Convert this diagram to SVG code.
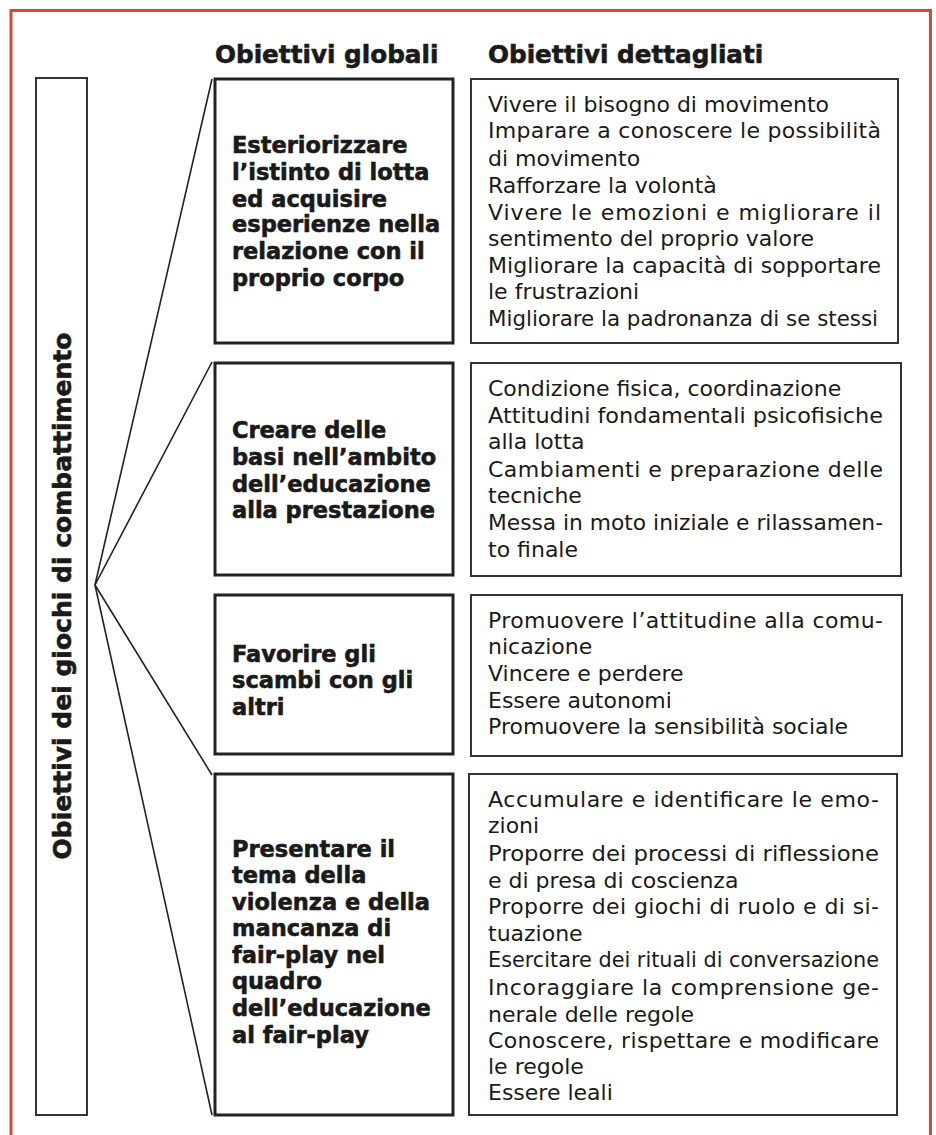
<svg xmlns="http://www.w3.org/2000/svg" width="936" height="1135" viewBox="0 0 936 1135">
<style>
.frame{fill:none;stroke:#cf4a3a;stroke-width:3}
.side{fill:#fff;stroke:#333;stroke-width:2}
.g{fill:#fff;stroke:#222;stroke-width:3}
.d{fill:#fff;stroke:#333;stroke-width:2}
.conn{fill:none;stroke:#222;stroke-width:1.6}
.h{font-family:"DejaVu Sans",sans-serif;font-weight:bold;font-size:24.7px;fill:#1a1a1a;stroke:#1a1a1a;stroke-width:0.6}
.b{font-family:"DejaVu Sans",sans-serif;font-weight:bold;font-size:22.5px;fill:#1a1a1a;stroke:#1a1a1a;stroke-width:0.6}
.t{font-family:"DejaVu Sans",sans-serif;font-size:22px;fill:#1a1a1a}
</style>
<rect width="936" height="1135" fill="#fff"/>
<path class="frame" d="M11,1140 V10.5 H930.5 V1140"/>
<g id="headers">
<text class="h" x="215" y="63">Obiettivi globali</text>
<text class="h" x="488" y="63">Obiettivi dettagliati</text>
</g>
<g id="root">
<rect class="side" x="36" y="78" width="51" height="1037"/>
<text class="h" transform="translate(71,596) rotate(-90)" text-anchor="middle" textLength="527" lengthAdjust="spacingAndGlyphs" font-size="26">Obiettivi dei giochi di combattimento</text>
</g>
<g id="connectors">
<line class="conn" x1="95" y1="585" x2="212" y2="79"/>
<line class="conn" x1="95" y1="585" x2="212" y2="362"/>
<line class="conn" x1="95" y1="585" x2="212" y2="775"/>
<line class="conn" x1="95" y1="585" x2="212" y2="1115"/>
</g>
<g id="global1">
<rect class="g" x="215" y="79" width="238" height="264"/>
<text class="b" x="232" y="153.3">Esteriorizzare</text>
<text class="b" x="232" y="180">l’istinto di lotta</text>
<text class="b" x="232" y="206.7">ed acquisire</text>
<text class="b" x="232" y="232.3">esperienze nella</text>
<text class="b" x="232" y="259">relazione con il</text>
<text class="b" x="232" y="285.7">proprio corpo</text>
</g>
<g id="global2">
<rect class="g" x="215" y="363" width="238" height="212"/>
<text class="b" x="232" y="438.3">Creare delle</text>
<text class="b" x="232" y="465">basi nell’ambito</text>
<text class="b" x="232" y="491.7">dell’educazione</text>
<text class="b" x="232" y="518.3">alla prestazione</text>
</g>
<g id="global3">
<rect class="g" x="215" y="595" width="238" height="159"/>
<text class="b" x="232" y="661.7">Favorire gli</text>
<text class="b" x="232" y="688.3">scambi con gli</text>
<text class="b" x="232" y="715">altri</text>
</g>
<g id="global4">
<rect class="g" x="215" y="774" width="238" height="341"/>
<text class="b" x="232" y="856.7">Presentare il</text>
<text class="b" x="232" y="883.3">tema della</text>
<text class="b" x="232" y="910">violenza e della</text>
<text class="b" x="232" y="936.3">mancanza di</text>
<text class="b" x="232" y="963.3">fair-play nel</text>
<text class="b" x="232" y="989.3">quadro</text>
<text class="b" x="232" y="1016">dell’educazione</text>
<text class="b" x="232" y="1042.7">al fair-play</text>
</g>
<g id="detail1">
<rect class="d" x="471" y="79" width="427" height="264"/>
<text class="t" x="488" y="111.7">Vivere il bisogno di movimento</text>
<text class="t" x="488" y="138.3" textLength="393" lengthAdjust="spacing">Imparare a conoscere le possibilità</text>
<text class="t" x="488" y="165.7">di movimento</text>
<text class="t" x="488" y="192.7">Rafforzare la volontà</text>
<text class="t" x="488" y="220" textLength="393" lengthAdjust="spacing">Vivere le emozioni e migliorare il</text>
<text class="t" x="488" y="246">sentimento del proprio valore</text>
<text class="t" x="488" y="273.3" textLength="393" lengthAdjust="spacing">Migliorare la capacità di sopportare</text>
<text class="t" x="488" y="299.3">le frustrazioni</text>
<text class="t" x="488" y="326" textLength="390" lengthAdjust="spacingAndGlyphs">Migliorare la padronanza di se stessi</text>
</g>
<g id="detail2">
<rect class="d" x="471" y="363" width="430" height="213"/>
<text class="t" x="488" y="396">Condizione fisica, coordinazione</text>
<text class="t" x="488" y="423.3" textLength="395" lengthAdjust="spacingAndGlyphs">Attitudini fondamentali psicofisiche</text>
<text class="t" x="488" y="449.3">alla lotta</text>
<text class="t" x="488" y="476.7" textLength="395" lengthAdjust="spacing">Cambiamenti e preparazione delle</text>
<text class="t" x="488" y="503.3">tecniche</text>
<text class="t" x="488" y="530" textLength="395" lengthAdjust="spacingAndGlyphs">Messa in moto iniziale e rilassamen-</text>
<text class="t" x="488" y="556.7">to finale</text>
</g>
<g id="detail3">
<rect class="d" x="471" y="595" width="431" height="161"/>
<text class="t" x="488" y="627.7" textLength="395" lengthAdjust="spacing">Promuovere l’attitudine alla comu-</text>
<text class="t" x="488" y="654.3">nicazione</text>
<text class="t" x="488" y="681">Vincere e perdere</text>
<text class="t" x="488" y="707.7">Essere autonomi</text>
<text class="t" x="488" y="734.3">Promuovere la sensibilità sociale</text>
</g>
<g id="detail4">
<rect class="d" x="469" y="774" width="428" height="341"/>
<text class="t" x="488" y="806.7" textLength="391" lengthAdjust="spacing">Accumulare e identificare le emo-</text>
<text class="t" x="488" y="833.3">zioni</text>
<text class="t" x="488" y="860.7" textLength="391" lengthAdjust="spacingAndGlyphs">Proporre dei processi di riflessione</text>
<text class="t" x="488" y="887.7">e di presa di coscienza</text>
<text class="t" x="488" y="914" textLength="391" lengthAdjust="spacing">Proporre dei giochi di ruolo e di si-</text>
<text class="t" x="488" y="940.7">tuazione</text>
<text class="t" x="488" y="967.3" textLength="391" lengthAdjust="spacingAndGlyphs">Esercitare dei rituali di conversazione</text>
<text class="t" x="488" y="995" textLength="391" lengthAdjust="spacing">Incoraggiare la comprensione ge-</text>
<text class="t" x="488" y="1021.7">nerale delle regole</text>
<text class="t" x="488" y="1048.3" textLength="391" lengthAdjust="spacing">Conoscere, rispettare e modificare</text>
<text class="t" x="488" y="1074.3">le regole</text>
<text class="t" x="488" y="1100">Essere leali</text>
</g>
</svg>
